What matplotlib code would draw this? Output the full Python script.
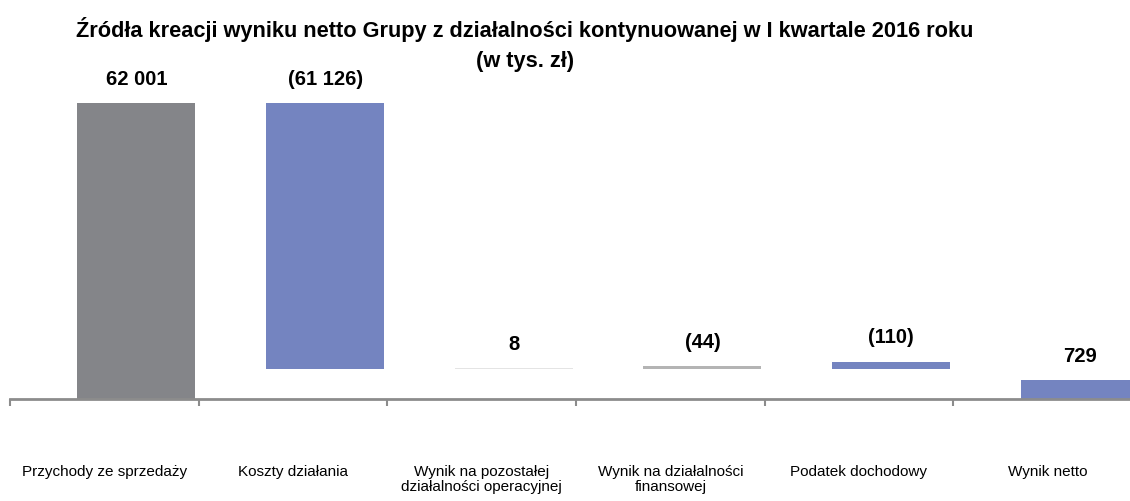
import matplotlib
matplotlib.use("Agg")
import matplotlib.pyplot as plt

# data (tys. zł)
categories = [
    "Przychody ze sprzedaży",
    "Koszty działania",
    "Wynik na pozostałej\ndziałalności operacyjnej",
    "Wynik na działalności\nfinansowej",
    "Podatek dochodowy",
    "Wynik netto",
]
values = [62001, -61126, 8, -44, -110, 729]
value_labels = ["62 001", "(61 126)", "8", "(44)", "(110)", "729"]
bar_colors = ["#848589", "#7484c0", "#e4e4e4", "#b4b4b4", "#7484c0", "#7484c0"]
title_lines = [
    "Źródła kreacji wyniku netto Grupy z działalności kontynuowanej w I kwartale 2016 roku",
    "(w tys. zł)",
]

plt.rcParams["font.family"] = ["Liberation Sans", "DejaVu Sans"]

# waterfall geometry from the values
level = values[0] + values[1]  # level after operating costs
bottoms = [0, level, level, level, level, 0]
heights = [values[0], abs(values[1]), abs(values[2]), abs(values[3]), abs(values[4]), values[5]]

fig = plt.figure(figsize=(11.3, 5.02), dpi=100)
ax = fig.add_axes([10 / 1130, 102 / 502, 1132 / 1130, 325.4 / 502])

x = list(range(len(categories)))
shift = 0.17  # bars sit right of the category centre in the original
ax.bar([i + shift for i in x], heights, bottom=bottoms, width=0.625,
       color=bar_colors, linewidth=0)
ax.set_yscale("log")
ax.set_ylim(540, 100000)
ax.set_xlim(-0.5, len(categories) - 0.5)

for xi, b, h, lab in zip(x, bottoms, heights, value_labels):
    top = b + h
    ax.annotate(lab, (xi + shift, top), xytext=(0, 11), textcoords="offset points",
                ha="center", va="bottom", fontsize=14.5, fontweight="bold")

for s in ["top", "right", "left"]:
    ax.spines[s].set_visible(False)
ax.spines["bottom"].set_color("#8c8c8c")
ax.spines["bottom"].set_linewidth(2)
ax.yaxis.set_visible(False)

ax.set_xticks(x)
ax.set_xticklabels(categories, fontsize=11, linespacing=1.1)
ax.tick_params(axis="x", which="major", length=0, pad=47)
ax.set_xticks([i - 0.5 for i in range(len(categories) + 1)], minor=True)
ax.tick_params(axis="x", which="minor", length=5, width=1.5, color="#8c8c8c")

fig.text(525 / 1130, 1 - 30 / 502, title_lines[0],
         ha="center", va="center", fontsize=15.7, fontweight="bold")
fig.text(525 / 1130, 1 - 62 / 502, title_lines[1],
         ha="center", va="center", fontsize=15.7, fontweight="bold")

fig.savefig("out.png", dpi=100)
